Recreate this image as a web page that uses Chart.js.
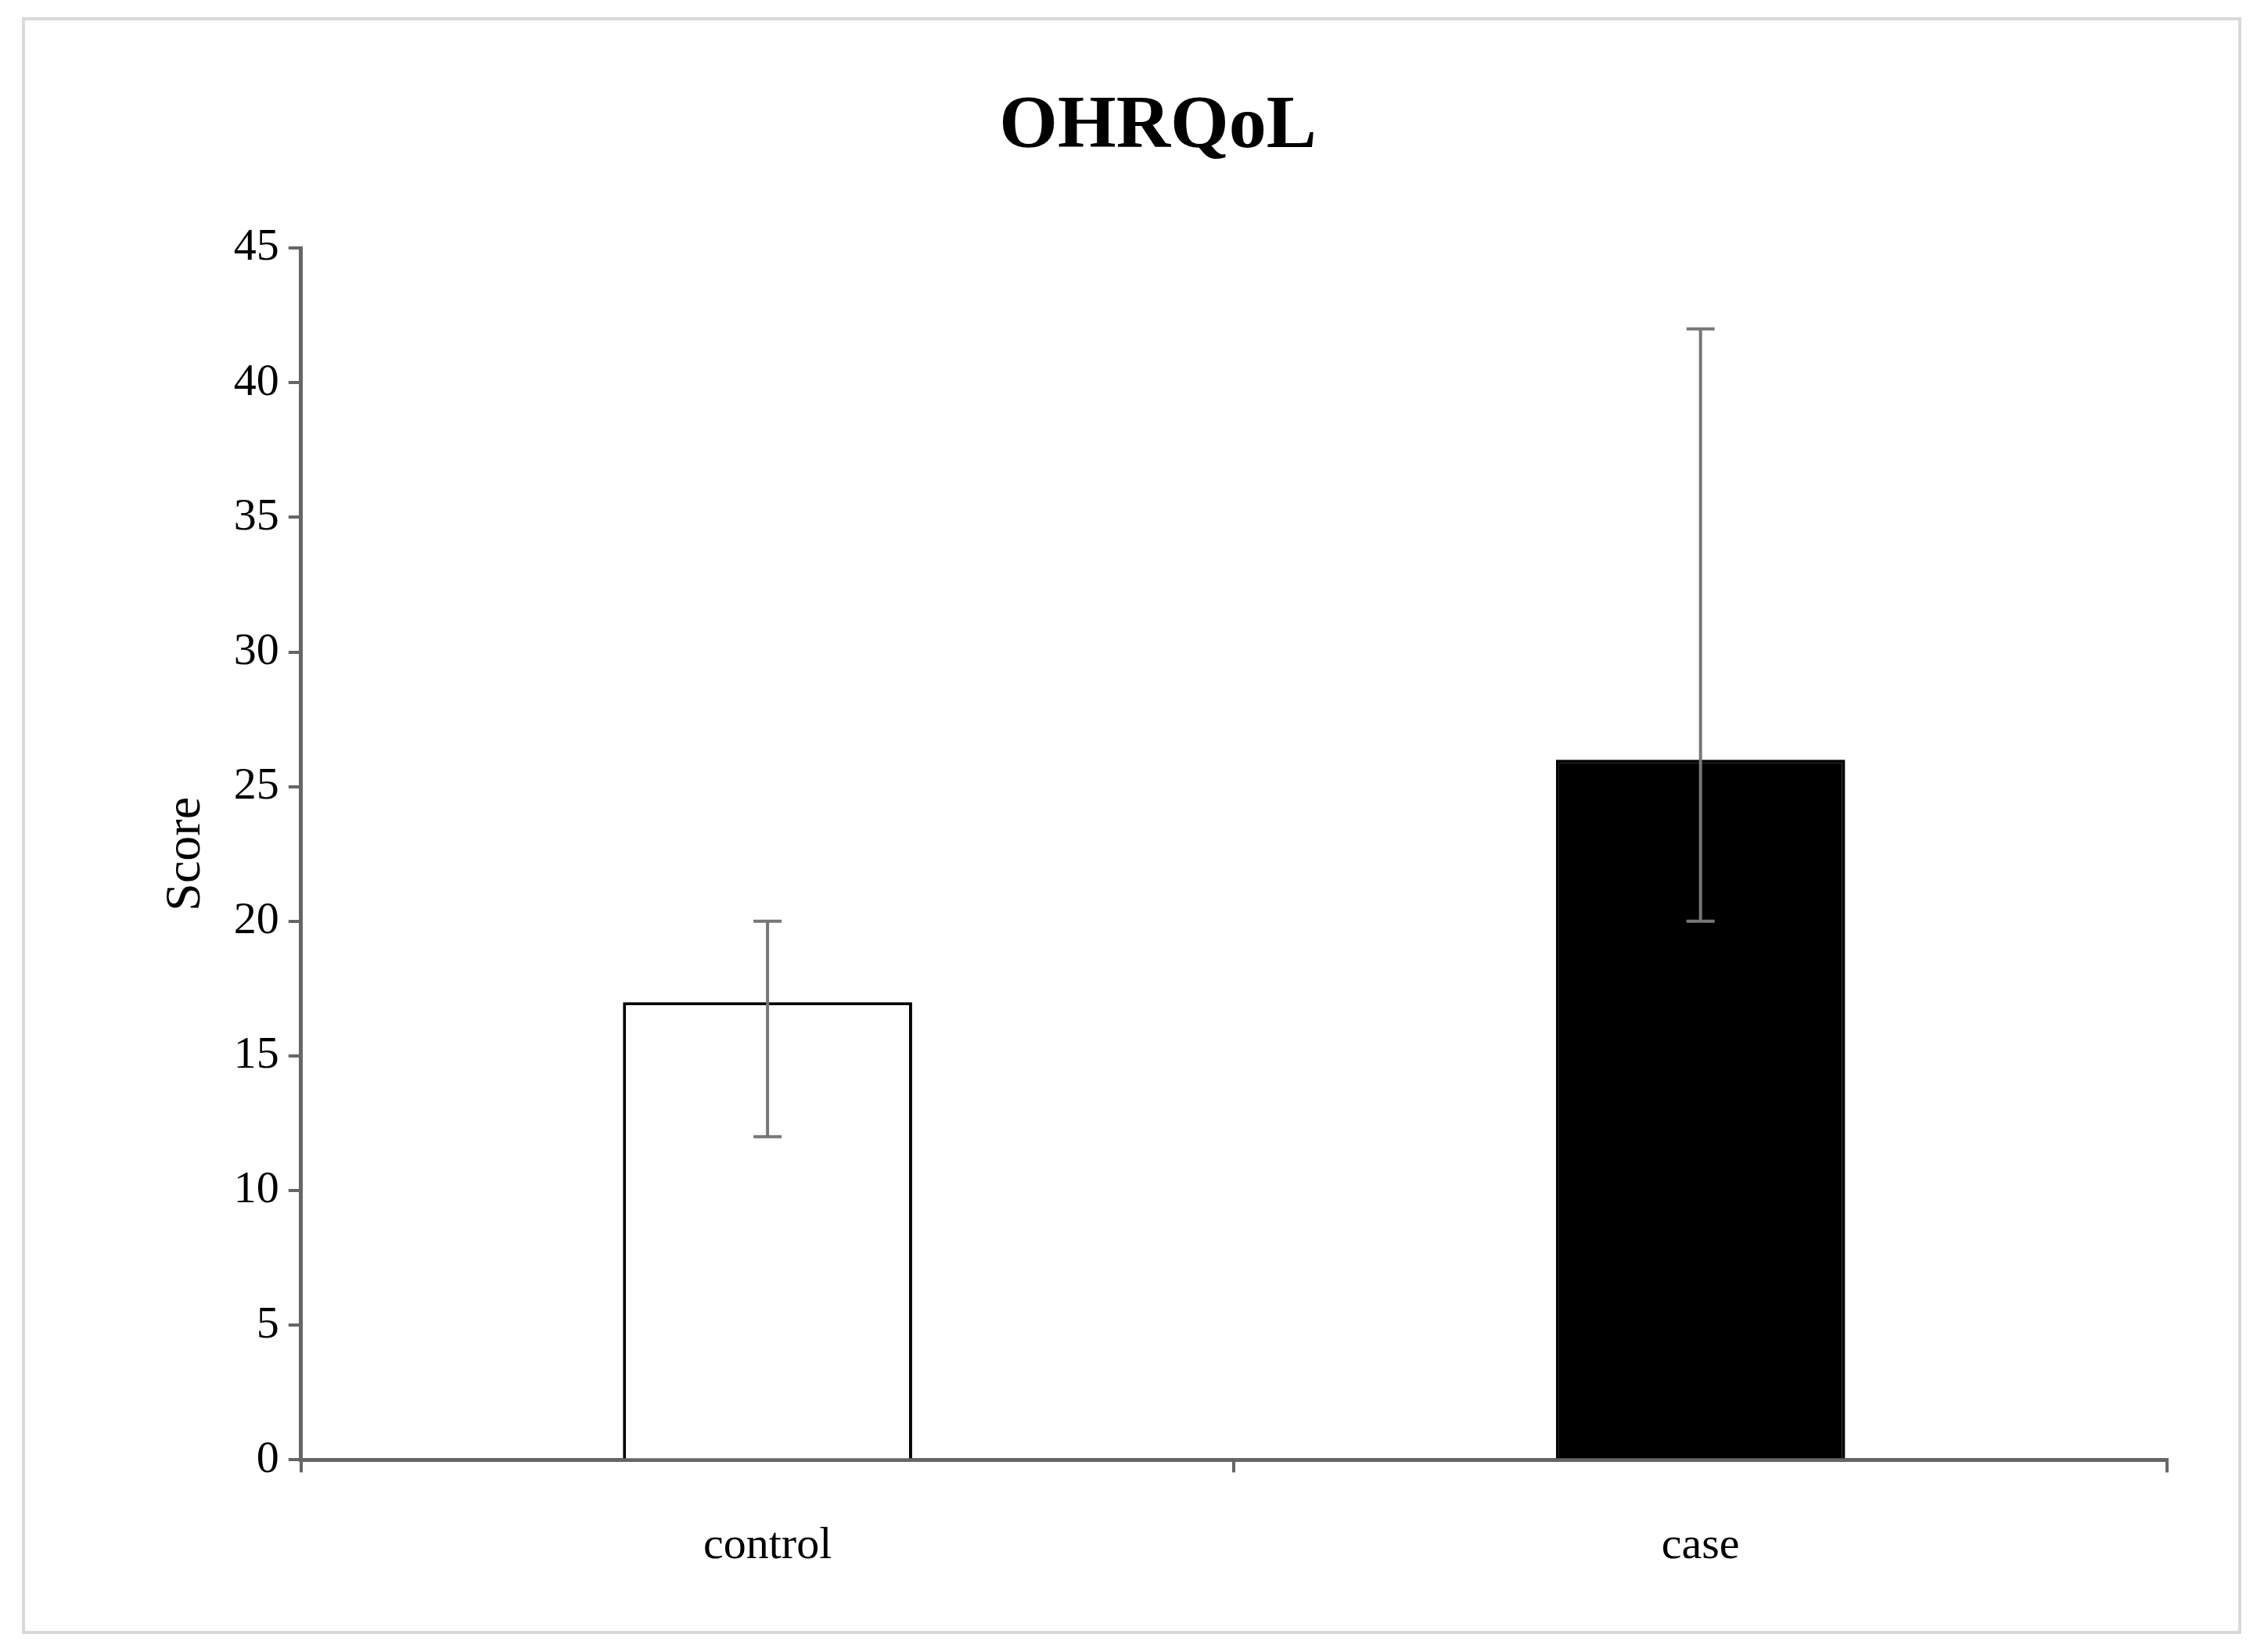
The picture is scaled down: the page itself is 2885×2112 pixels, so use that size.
<!DOCTYPE html>
<html>
<head>
<meta charset="utf-8">
<script src="https://cdn.jsdelivr.net/npm/chart.js@4"></script>
<style>
  html, body { margin: 0; padding: 0; background: #fff; }
  #frame { position: absolute; left: 28px; top: 22px; width: 2829px; height: 2059px; border: 4px solid #d9d9d9; }
</style>
</head>
<body>
<div id="frame"></div>
<canvas id="myChart" width="2885" height="2112" style="position:absolute;left:0;top:0;"></canvas>
<script>
const categories = ["control", "case"];
const scores = [17, 26];
const errLow = [12, 20];
const errHigh = [20, 42];
const barColors = ["#ffffff", "#000000"];

// error bars drawn on top of the bars, positions from the scales
const errorBars = {
  id: 'errorBars',
  afterDatasetsDraw(chart) {
    const ctx = chart.ctx;
    const y = chart.scales.y;
    chart.getDatasetMeta(0).data.forEach((bar, i) => {
      const top = y.getPixelForValue(errHigh[i]);
      const bot = y.getPixelForValue(errLow[i]);
      ctx.save();
      ctx.strokeStyle = '#777';
      ctx.lineWidth = 4;
      ctx.beginPath();
      ctx.moveTo(bar.x, top); ctx.lineTo(bar.x, bot);
      ctx.moveTo(bar.x - 18, top); ctx.lineTo(bar.x + 18, top);
      ctx.moveTo(bar.x - 18, bot); ctx.lineTo(bar.x + 18, bot);
      ctx.stroke();
      ctx.restore();
    });
  }
};

const ctx = document.getElementById('myChart');
new Chart(ctx, {
  type: 'bar',
  data: {
    labels: categories,
    datasets: [{
      data: scores,
      backgroundColor: barColors,
      borderColor: '#000',
      borderWidth: 4,
      categoryPercentage: 1,
      barPercentage: 0.31
    }]
  },
  plugins: [errorBars],
  options: {
    responsive: false,
    animation: false,
    layout: { padding: { left: 190, right: 115, top: 66, bottom: 40 } },
    plugins: {
      legend: { display: false },
      tooltip: { enabled: false },
      title: {
        display: true,
        text: 'OHRQoL',
        color: '#000',
        font: { family: 'Liberation Serif', size: 96, weight: 'bold' },
        padding: { top: 40, bottom: 96 }
      }
    },
    scales: {
      x: {
        grid: { offset: true, drawOnChartArea: false, color: '#666', lineWidth: 4, tickLength: 16 },
        border: { color: '#666', width: 5 },
        ticks: { color: '#000', font: { family: 'Liberation Serif', size: 58 }, padding: 60 }
      },
      y: {
        min: 0, max: 45,
        grid: { drawOnChartArea: false, color: '#666', lineWidth: 4, tickLength: 16 },
        border: { color: '#666', width: 5 },
        ticks: { stepSize: 5, color: '#000', font: { family: 'Liberation Serif', size: 58 }, padding: 12 },
        title: { display: true, text: 'Score', color: '#000', font: { family: 'Liberation Serif', size: 64 }, padding: 10 }
      }
    }
  }
});
</script>
</body>
</html>
